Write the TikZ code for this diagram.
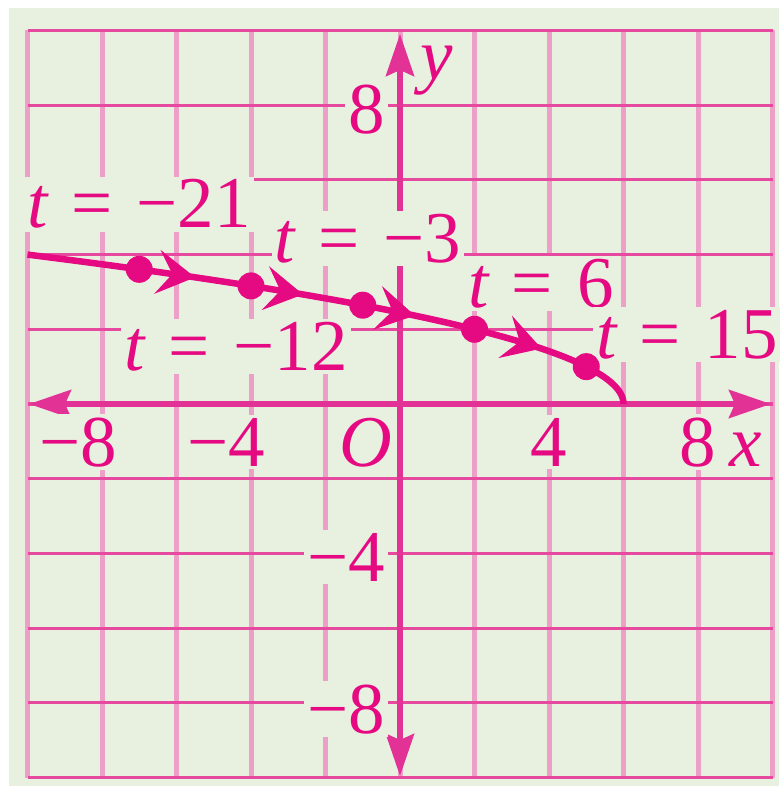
\documentclass[tikz,border=0pt]{standalone}
\usepackage{fontspec}
\setmainfont{Liberation Serif}
\usetikzlibrary{arrows.meta}
\definecolor{bg}{RGB}{232,241,224}
\definecolor{hgrid}{RGB}{229,74,159}
\definecolor{vgrid}{RGB}{236,160,200}
\definecolor{axiscol}{RGB}{226,50,150}
\definecolor{inkcol}{RGB}{230,10,130}
\newcommand\tlab[1]{\textit{t}\hspace{0.3em}=\hspace{0.33em}#1}
\tikzset{
  lbl/.style={fill=bg, text=inkcol, font=\fontsize{73}{76}\selectfont, inner sep=3pt, anchor=base},
  axisline/.style={draw=axiscol, line width=6pt},
  curveline/.style={draw=inkcol, line width=6.5pt},
  dotnode/.style={circle, fill=inkcol, inner sep=0pt, minimum size=27pt},
  chev/.style={curveline, line width=5pt, -{Stealth[length=38pt,width=44pt,inset=15pt]}},
  axtip/.style={-{Stealth[length=42pt,width=28pt,inset=6pt]}}
}
\begin{document}
\begin{tikzpicture}[x=1pt,y=-1pt]
\useasboundingbox (0,0) rectangle (779,786);
\fill[white] (0,0) rectangle (779,786);
\fill[bg] (9,8) rectangle (779,786);
% grid
\foreach \k in {-5,...,5}
  \draw[vgrid, line width=5pt] ({400+74.5*\k},30.5) -- ({400+74.5*\k},777.5);
\foreach \k in {-5,...,5}
  \draw[hgrid, line width=3.2pt] (27.5,{404+74.7*\k}) -- (772.5,{404+74.7*\k});
% axes
\coordinate (xl) at (29,404);
\coordinate (xr) at (771,404);
\coordinate (yt) at (400,34);
\coordinate (yb) at (400,776);
\draw[axisline, axtip] (400,404) -- (xr);
\draw[axisline, axtip] (400,404) -- (xl);
\draw[axisline, axtip] (400,404) -- (yt);
\draw[axisline, axtip] (400,404) -- (yb);
% axis labels
\node[lbl] (xm8) at (78,466) {−8};
\node[lbl] (xm4) at (226,466) {−4};
\node[lbl] (xo) at (366,466) {\textit{O}};
\node[lbl] (x4) at (549,466) {4};
\node[lbl] (x8) at (698,466) {8};
\node[lbl] (xx) at (746,466) {\textit{x}};
\node[lbl, anchor=base east] (y8) at (388,134) {8};
\node[lbl, anchor=base west, fill=none] (yy) at (417,80) {\textit{y}};
\node[lbl, anchor=base east] (ym4) at (388,581) {−4};
\node[lbl, anchor=base east] (ym8) at (388,733) {−8};
% t labels
\node[lbl] (t21) at (139,228) {\tlab{−21}};
\node[lbl] (t3) at (368,262) {\tlab{−3}};
\node[lbl] (t12) at (236,370) {\tlab{−12}};
\node[lbl] (t6) at (541,307) {\tlab{6}};
\node[lbl] (t15) at (687,358) {\tlab{15}};
% curve x = 6 - y^2
\draw[curveline] plot[domain=4:0, samples=120] ({400+37.25*(6-\x*\x)}, {404-37.35*\x});
% direction chevrons
\foreach \a in {3.391,2.933,2.366,1.483}
  \draw[chev] ({400+37.25*(6-(\a+0.14)*(\a+0.14))}, {404-37.35*(\a+0.14)}) -- ({400+37.25*(6-\a*\a)}, {404-37.35*\a});
% points
\node[dotnode] (p21) at ({400+37.25*(-7)}, {404-37.35*3.6056}) {};
\node[dotnode] (p12) at ({400+37.25*(-4)}, {404-37.35*3.1623}) {};
\node[dotnode] (p3) at ({400+37.25*(-1)}, {404-37.35*2.6458}) {};
\node[dotnode] (p6) at ({400+37.25*(2)}, {404-37.35*2}) {};
\node[dotnode] (p15) at ({400+37.25*(5)}, {404-37.35*1}) {};
\end{tikzpicture}
\end{document}
